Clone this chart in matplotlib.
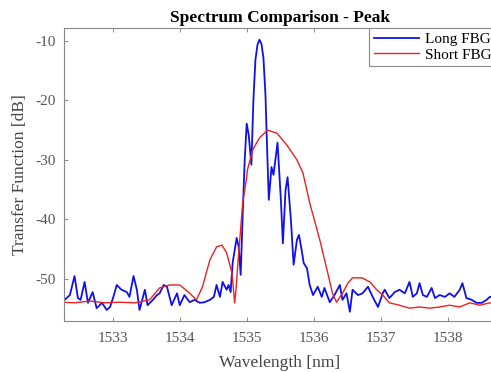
import matplotlib
matplotlib.use('Agg')
import matplotlib.pyplot as plt

plt.rcParams['font.family'] = ['Liberation Serif', 'DejaVu Serif']
plt.rcParams['axes.unicode_minus'] = False

# Long FBG (blue)
long_wl = [1532.24, 1532.28, 1532.36, 1532.43, 1532.48, 1532.52, 1532.58, 1532.63, 1532.70,
           1532.76, 1532.84, 1532.91, 1532.96, 1533.01, 1533.06, 1533.13, 1533.21, 1533.25,
           1533.31, 1533.36, 1533.40, 1533.48, 1533.52, 1533.60, 1533.66, 1533.70, 1533.76,
           1533.81, 1533.88, 1533.96, 1534.00, 1534.07, 1534.15, 1534.22, 1534.30, 1534.37,
           1534.45, 1534.51, 1534.55, 1534.60, 1534.64, 1534.70, 1534.73, 1534.76, 1534.79,
           1534.85, 1534.88, 1534.91, 1534.94, 1534.97, 1535.00, 1535.03, 1535.07, 1535.10,
           1535.13, 1535.16, 1535.19, 1535.22, 1535.25, 1535.28, 1535.30, 1535.33, 1535.37,
           1535.40, 1535.46, 1535.51, 1535.54, 1535.58, 1535.61, 1535.66, 1535.70, 1535.75,
           1535.78, 1535.82, 1535.85, 1535.90, 1535.94, 1535.99, 1536.06, 1536.12, 1536.16,
           1536.24, 1536.31, 1536.39, 1536.43, 1536.49, 1536.54, 1536.58, 1536.66, 1536.73,
           1536.81, 1536.88, 1536.96, 1537.03, 1537.06, 1537.13, 1537.21, 1537.28, 1537.36,
           1537.43, 1537.48, 1537.54, 1537.58, 1537.63, 1537.69, 1537.76, 1537.81, 1537.88,
           1537.96, 1538.03, 1538.10, 1538.18, 1538.22, 1538.28, 1538.36, 1538.43, 1538.51,
           1538.58, 1538.63, 1538.75]
long_db = [-54.4, -53.5, -52.7, -49.5, -53.2, -53.5, -50.5, -54.0, -52.2,
           -54.9, -54.0, -55.2, -54.7, -53.0, -51.0, -51.8, -52.2, -53.0,
           -49.5, -51.8, -55.2, -51.8, -54.4, -53.5, -52.7, -52.4, -51.0,
           -51.3, -54.4, -52.4, -54.4, -52.7, -53.9, -53.5, -54.0, -53.9,
           -53.5, -53.0, -51.0, -53.0, -50.5, -51.8, -51.0, -52.2, -47.3,
           -43.1, -44.6, -49.3, -39.2, -30.0, -23.9, -25.8, -30.8, -19.9,
           -13.2, -10.7, -9.8, -10.5, -12.9, -19.1, -26.6, -36.7, -31.2,
           -32.5, -27.1, -36.7, -44.0, -35.0, -32.9, -40.1, -47.6, -43.4,
           -42.6, -45.1, -47.3, -48.2, -51.0, -52.7, -51.3, -53.0, -51.5,
           -53.9, -52.7, -51.0, -53.5, -52.4, -55.5, -51.8, -52.7, -52.4,
           -51.3, -53.0, -54.7, -52.4, -51.8, -53.2, -52.2, -51.8, -52.4,
           -50.5, -53.0, -52.4, -50.7, -52.7, -53.0, -51.5, -53.2, -52.7,
           -53.0, -52.4, -53.0, -51.8, -50.7, -53.2, -53.5, -54.0, -54.0,
           -53.5, -53.0, -53.0]

# Short FBG (red)
short_wl = [1532.24, 1532.43, 1532.66, 1532.88, 1533.10, 1533.33, 1533.55, 1533.70, 1533.85,
            1534.00, 1534.15, 1534.25, 1534.34, 1534.45, 1534.55, 1534.63, 1534.70, 1534.78,
            1534.82, 1534.84, 1534.87, 1534.90, 1534.94, 1535.00, 1535.01, 1535.09, 1535.19,
            1535.31, 1535.45, 1535.60, 1535.75, 1535.84, 1535.94, 1536.09, 1536.21, 1536.28,
            1536.34, 1536.43, 1536.51, 1536.58, 1536.72, 1536.84, 1536.94, 1537.03, 1537.13,
            1537.28, 1537.43, 1537.58, 1537.73, 1537.88, 1538.03, 1538.18, 1538.33, 1538.48,
            1538.63, 1538.75]
short_db = [-53.9, -54.0, -53.7, -54.0, -53.9, -54.0, -53.5, -51.5, -51.0,
            -51.0, -52.4, -53.5, -51.3, -46.8, -44.6, -44.3, -45.6, -49.0,
            -54.0, -51.8, -47.1, -42.9, -37.2, -32.9, -31.7, -28.3, -26.3,
            -25.0, -25.5, -27.5, -30.0, -32.2, -37.2, -43.4, -49.0, -52.4,
            -53.9, -52.4, -50.7, -49.8, -49.8, -50.5, -51.8, -52.7, -54.0,
            -54.4, -54.9, -54.7, -54.9, -54.7, -54.4, -54.7, -54.0, -54.4,
            -54.0, -54.1]

xticks = [1533, 1534, 1535, 1536, 1537, 1538]
yticks = [-50, -40, -30, -20, -10]

fig = plt.figure(figsize=(4.91, 3.72), dpi=100)
ax = fig.add_axes([0.130, 0.137, 0.880, 0.788])

ax.plot(long_wl, long_db, color='#1010ee', linewidth=1.3, label='Long FBG')
ax.plot(short_wl, short_db, color='#ee2020', linewidth=1.0, label='Short FBG')

ax.set_xlim(1532.27, 1538.72)
ax.set_ylim(-57.06, -7.82)
ax.set_xticks(xticks)
ax.set_yticks(yticks)
ax.tick_params(direction='in', top=True, right=True, labelsize=11, colors='#777777',
               length=3, width=0.6, labelcolor='#555555')
ax.tick_params(axis='y', pad=6)
ax.tick_params(axis='x', pad=8)
for s in ax.spines.values():
    s.set_color('#888888')
    s.set_linewidth(0.8)

ax.set_title('Spectrum Comparison - Peak', fontsize=12.5, fontweight='bold', pad=4)
ax.set_xlabel('Wavelength [nm]', fontsize=12.5, color='#444444', labelpad=7)
ax.set_ylabel('Transfer Function [dB]', fontsize=12.5, color='#444444', labelpad=5)

leg = ax.legend(loc='upper right', fontsize=11, handlelength=3.0, borderaxespad=0,
                fancybox=False, framealpha=1, edgecolor='#888888',
                borderpad=0.3, labelspacing=0.12, handletextpad=0.35)
leg.get_frame().set_linewidth(0.8)

fig.savefig('out.png', dpi=100)
